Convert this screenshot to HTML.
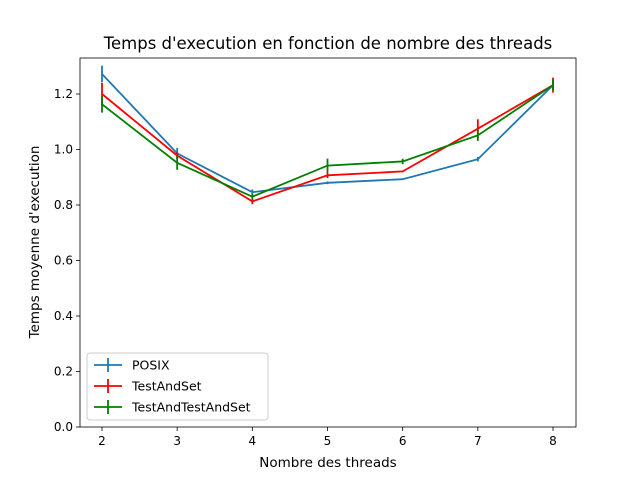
<!DOCTYPE html>
<html><head><meta charset="utf-8"><style>
html,body{margin:0;padding:0;background:#fff;}
svg{display:block;font-family:"DejaVu Sans","Liberation Sans",sans-serif;}
</style></head><body>
<svg id="chart" width="640" height="480" xmlns="http://www.w3.org/2000/svg"></svg>
<script>
const categories = [2,3,4,5,6,7,8];
const posixValues = [1.272,0.986,0.846,0.880,0.893,0.965,1.232];
const posixErrors = [0.03,0.02,0.01,0.005,0.002,0.008,0.005];
const tasValues = [1.200,0.978,0.813,0.907,0.921,1.075,1.232];
const tasErrors = [0.04,0.012,0.01,0.01,0.003,0.034,0.027];
const ttasValues = [1.163,0.952,0.830,0.942,0.957,1.051,1.232];
const ttasErrors = [0.03,0.025,0.01,0.025,0.01,0.02,0.02];
const xTicks = [2,3,4,5,6,7,8];
const yTicks = [0.0,0.2,0.4,0.6,0.8,1.0,1.2];

const L=80,R=576,T=58,B=427;
const sx = v => 102 + (v-2)*(553-102)/6;
const sy = v => 427 - v*277.5;
const svg = document.getElementById('chart');
const NS='http://www.w3.org/2000/svg';
function mk(tag, attrs, parent){const e=document.createElementNS(NS,tag);for(const k in attrs)e.setAttribute(k,attrs[k]);(parent||svg).appendChild(e);return e;}

const title=mk('text',{x:328,y:49,'text-anchor':'middle','font-size':16.5,fill:'#000'});
title.textContent="Temps d'execution en fonction de nombre des threads";



const xg=mk('g',{});


xTicks.forEach(t=>{
  mk('line',{x1:sx(t),x2:sx(t),y1:B,y2:B+4,stroke:'#000','stroke-width':0.8},xg);
  const tx=mk('text',{x:sx(t),y:B+18,'text-anchor':'middle','font-size':12},xg);
  tx.textContent=t;
  
  
});
const yg=mk('g',{});


yTicks.forEach(t=>{
  mk('line',{x1:L-4,x2:L,y1:sy(t),y2:sy(t),stroke:'#000','stroke-width':0.8},yg);
  const tx=mk('text',{x:L-7,y:sy(t)+4,'text-anchor':'end','font-size':12},yg);
  tx.textContent=t.toFixed(1);
  
  
});
const xt=mk('text',{x:328,y:467,'text-anchor':'middle','font-size':13.5});
xt.textContent='Nombre des threads';


const yt=mk('text',{x:0,y:0,'text-anchor':'middle','font-size':13.5,transform:'translate(39,242) rotate(-90)'});
yt.textContent="Temps moyenne d'execution";



function series(vals,errs,color,name){
  const g=mk('g',{});
  
  
  mk('polyline',{points:categories.map((c,i)=>sx(c)+','+sy(vals[i])).join(' '),fill:'none',stroke:color,'stroke-width':1.8},g);
  categories.forEach((c,i)=>{
    const e=mk('line',{x1:sx(c),x2:sx(c),y1:sy(vals[i]-errs[i]),y2:sy(vals[i]+errs[i]),stroke:color,'stroke-width':1.8},g);
    
    
  });
}
series(posixValues,posixErrors,'#1f77b4','series-posix');
series(tasValues,tasErrors,'#ff0000','series-testandset');
series(ttasValues,ttasErrors,'#008000','series-testandtestandset');

mk('rect',{x:L,y:T,width:R-L,height:B-T,fill:'none',stroke:'#000','stroke-width':0.8});

const lg=mk('g',{});


mk('rect',{x:87,y:353,width:181,height:67,rx:3,fill:'#fff','fill-opacity':0.8,stroke:'#ccc'},lg);
[['POSIX','#1f77b4'],['TestAndSet','#ff0000'],['TestAndTestAndSet','#008000']].forEach((d,i)=>{
  const y=365+i*21;
  const en=mk('g',{},lg);
  
  
  mk('line',{x1:94,x2:122,y1:y,y2:y,stroke:d[1],'stroke-width':1.8},en);
  mk('line',{x1:108,x2:108,y1:y-7,y2:y+7,stroke:d[1],'stroke-width':1.8},en);
  const t=mk('text',{x:132,y:y+4.5,'font-size':12.5},en);
  t.textContent=d[0];
});
</script>
</body></html>
